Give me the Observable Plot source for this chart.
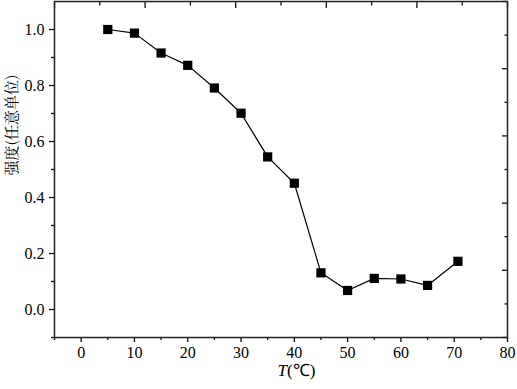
<!DOCTYPE html>
<html>
<head>
<meta charset="utf-8">
<script src="https://cdn.jsdelivr.net/npm/d3@7"></script>
<script src="https://cdn.jsdelivr.net/npm/@observablehq/plot@0.6"></script>
<style>
  html, body { margin: 0; padding: 0; background: #fff; }
</style>
</head>
<body>
<div id="chart"></div>
<script>
// Data
const temperature = [5, 10, 15, 20, 25, 30, 35, 40, 45, 50, 55, 60, 65, 70.7];
const intensity = [1.0, 0.987, 0.916, 0.872, 0.791, 0.701, 0.545, 0.451, 0.131, 0.068, 0.111, 0.109, 0.086, 0.172];

// Axis ticks
const xMajorTicks = [0, 10, 20, 30, 40, 50, 60, 70, 80];
const xMinorTicks = [-5, 5, 15, 25, 35, 45, 55, 65, 75];
const yMajorTicks = [0.0, 0.2, 0.4, 0.6, 0.8, 1.0];
const yMinorTicks = [-0.1, 0.1, 0.3, 0.5, 0.7, 0.9];
// Decorative top/right frame ticks (10 equal divisions of each side)
const topMajorTicks = [-5, 12, 29, 46, 63, 80];
const topMinorTicks = [3.5, 20.5, 37.5, 54.5, 71.5];
const rightMajorTicks = [-0.1, 0.14, 0.38, 0.62, 0.86, 1.1];
const rightMinorTicks = [0.02, 0.26, 0.5, 0.74, 0.98];

const yLabel = "强度(任意单位)";
const xLabelVar = "T";
const xLabelUnit = "(℃)";

const data = temperature.map((t, i) => ({t, v: intensity[i]}));

const serif = "'Liberation Serif', 'Times New Roman', serif";
const cjkSerif = "'Noto Serif CJK SC', 'Noto Sans CJK SC', serif";
const tickStroke = {stroke: "#111", strokeWidth: 1.3};

const chart = Plot.plot({
  width: 517,
  height: 389,
  marginLeft: 54,
  marginRight: 10,
  marginTop: 1,
  marginBottom: 52,
  style: {fontFamily: serif, fontSize: "15px", color: "#000", background: "#fff"},
  x: {domain: [-5, 80]},
  y: {domain: [-0.1, 1.1]},
  marks: [
    Plot.axisX({ticks: xMajorTicks, tickSize: 5, tickPadding: 4, tickFormat: d => String(d), label: null, className: "tl", ...tickStroke}),
    Plot.axisX({ticks: xMinorTicks, tickSize: 3, tickFormat: () => "", label: null, ...tickStroke}),
    Plot.axisY({ticks: yMajorTicks, tickSize: 5, tickPadding: 5, tickFormat: d3.format(".1f"), label: null, className: "tl", ...tickStroke}),
    Plot.axisY({ticks: yMinorTicks, tickSize: 3, tickFormat: () => "", label: null, ...tickStroke}),
    Plot.axisX({anchor: "top", ticks: topMajorTicks, tickSize: -6, tickFormat: () => "", label: null, ...tickStroke}),
    Plot.axisX({anchor: "top", ticks: topMinorTicks, tickSize: -3.5, tickFormat: () => "", label: null, ...tickStroke}),
    Plot.axisY({anchor: "right", ticks: rightMajorTicks, tickSize: -6, tickFormat: () => "", label: null, ...tickStroke}),
    Plot.axisY({anchor: "right", ticks: rightMinorTicks, tickSize: -3.5, tickFormat: () => "", label: null, ...tickStroke}),
    Plot.frame({stroke: "#222", strokeWidth: 1.5}),
    Plot.line(data, {x: "t", y: "v", stroke: "#000", strokeWidth: 1.2}),
    Plot.dot(data, {x: "t", y: "v", symbol: "square", fill: "#000", stroke: "none", r: 5.2}),
    Plot.text([yLabel], {frameAnchor: "left", text: d => d, rotate: -90, dx: -42, dy: 6,
      fontFamily: cjkSerif, fontSize: 15, fill: "#000"}),
    Plot.text([xLabelVar], {frameAnchor: "bottom", text: d => d, textAnchor: "end", dx: 6, dy: 38,
      fontFamily: serif, fontStyle: "italic", fontSize: 17, fill: "#000"}),
    Plot.text([xLabelUnit], {frameAnchor: "bottom", text: d => d, textAnchor: "start", dx: 6, dy: 38,
      fontFamily: serif, fontSize: 17, fill: "#000"})
  ]
});
// force the serif face and size on the numeric tick labels
d3.select(chart).selectAll("text").each(function() {
  const t = this.textContent;
  if (/^[-0-9.]+$/.test(t)) {
    d3.select(this).style("font-family", "Liberation Serif").style("font-size", "16px");
  }
});
document.getElementById("chart").appendChild(chart);
</script>
</body>
</html>
